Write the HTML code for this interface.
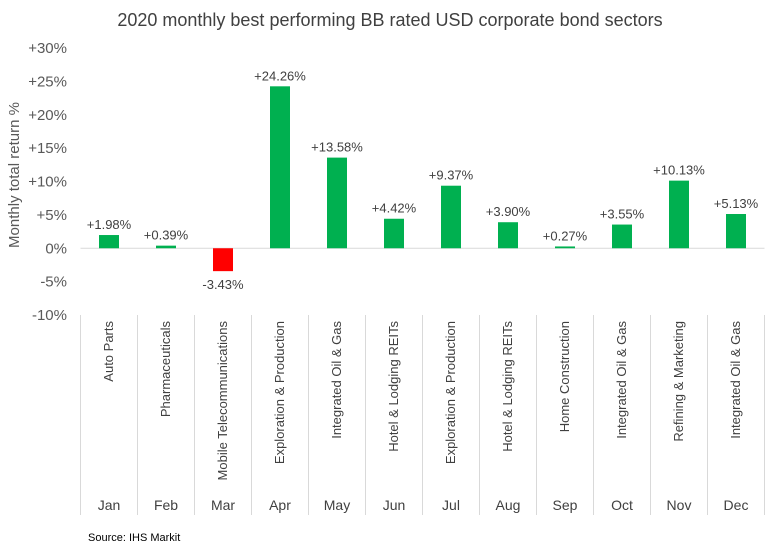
<!DOCTYPE html>
<html><head><meta charset="utf-8"><style>
body{margin:0;background:#fff;}
svg{display:block;font-family:"Liberation Sans",sans-serif;}
</style></head><body>
<svg id="chart" width="779" height="551" xmlns="http://www.w3.org/2000/svg">
<rect width="779" height="551" fill="#fff"/>
<text x="390" y="26" text-anchor="middle" font-size="18" fill="#404040">2020 monthly  best performing BB rated USD corporate bond sectors</text>
<text transform="translate(19,175) rotate(-90)" text-anchor="middle" font-size="15" fill="#595959">Monthly  total return %</text>
<text x="88" y="541" font-size="11" fill="#000">Source: IHS  Markit</text>
<g id="g"></g>
</svg>
<script>
const months=["Jan","Feb","Mar","Apr","May","Jun","Jul","Aug","Sep","Oct","Nov","Dec"];
const sectors=["Auto Parts","Pharmaceuticals","Mobile Telecommunications","Exploration & Production","Integrated Oil & Gas","Hotel & Lodging REITs","Exploration & Production","Hotel & Lodging REITs","Home Construction","Integrated Oil & Gas","Refining & Marketing","Integrated Oil & Gas"];
const values=[1.98,0.39,-3.43,24.26,13.58,4.42,9.37,3.90,0.27,3.55,10.13,5.13];
const yTicks=[30,25,20,15,10,5,0,-5,-10];
const NS="http://www.w3.org/2000/svg";
const g=document.getElementById('g');
const plotLeft=80.5,step=57,plotTop=48,plotBot=315,ymin=-10,ymax=30;
const y=v=>plotTop+(ymax-v)/(ymax-ymin)*(plotBot-plotTop);
const xc=i=>plotLeft+step*(i+0.5);
function el(t,a,txt){const e=document.createElementNS(NS,t);for(const k in a)e.setAttribute(k,a[k]);if(txt!==undefined)e.textContent=txt;g.appendChild(e);return e;}
yTicks.forEach(v=>{
 const t=el('text',{x:67,y:y(v)+5,'text-anchor':'end','font-size':15,fill:'#595959'},(v>0?'+':'')+v+'%');
 
 
});
const z=el('line',{x1:plotLeft,x2:plotLeft+step*12,y1:y(0),y2:y(0),stroke:'#d9d9d9','stroke-width':1});


for(let i=0;i<=12;i++){
 const l=el('line',{x1:plotLeft+step*i,x2:plotLeft+step*i,y1:315,y2:515,stroke:'#d9d9d9','stroke-width':1});
 
 
}
values.forEach((v,i)=>{
 const y0=y(0),yv=y(v);
 const r=el('rect',{x:xc(i)-10,y:Math.min(y0,yv),width:20,height:Math.max(Math.abs(yv-y0),1),fill:v<0?'#ff0000':'#00b050'});
 
 
 const s=(v>0?'+':'')+v.toFixed(2)+'%';
 const ly=v<0?yv+18:yv-6;
 const t=el('text',{x:xc(i),y:ly,'text-anchor':'middle','font-size':13,fill:'#404040'},s);
 
 
 const c=el('text',{transform:`translate(${xc(i)+4},321) rotate(-90)`,'text-anchor':'end','font-size':13,fill:'#404040'},sectors[i]);
 
 
 const m=el('text',{x:xc(i),y:510,'text-anchor':'middle','font-size':14,fill:'#404040'},months[i]);
 
 
});
</script>
</body></html>
